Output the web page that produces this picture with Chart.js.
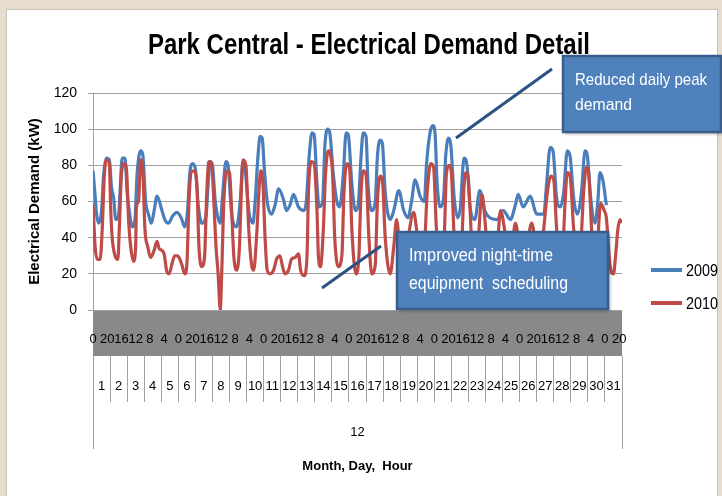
<!DOCTYPE html>
<html><head><meta charset="utf-8">
<script src="https://cdn.jsdelivr.net/npm/chart.js@4.4.1/dist/chart.umd.min.js"></script>
<style>
html,body{margin:0;padding:0;}
body{width:722px;height:496px;overflow:hidden;background:#E6DDCE;position:relative;}
#panel{position:absolute;left:6px;top:9px;width:710px;height:495px;background:#fff;border:1px solid #C9C2B6;}
#c{position:absolute;left:0;top:0;}
</style></head><body>
<div id="panel"></div>
<canvas id="c" width="722" height="496"></canvas>
<script>
const SANS = "'Liberation Sans Narrow', 'Liberation Sans', Arial, sans-serif";

// Hour of month (0 = Dec 1, 00:00) and demand in kW
const hours2009 = [0,3,5,8,12,15,19,23,26,29,32,36,38,41,45,48,51,55,59,62,67,70,74,78,82,86,90,97,101,106,112,118,124,129,133,136,140,144,148,153,159,162,165,168,172,179,182,187,190,195,202,207,211,214,219,225,228,232,235,238,241,245,251,256,261,268,272,277,282,289,296,300,304,308,311,315,318,323,326,330,333,338,343,347,352,356,359,364,369,373,377,380,384,387,392,397,400,404,407,411,418,423,430,437,443,448,453,460,466,469,474,478,481,484,488,493,496,500,503,508,513,517,520,522,526,530,537,544,551,558,568,577,587,594,598,605,615,624,634,638,643,647,652,657,662,667,671,676,681,687,692,695,700,706,710,713,717,722];
const kw2009 = [77,63,53,48,55,75,84,83,68,62,50,52,65,84,84,65,55,46,50,75,88,86,60,53,48,55,63,55,50,48,52,54,51,46,55,75,81,78,58,48,52,70,82,80,60,48,62,82,80,53,46,60,82,78,55,48,60,85,96,95,78,60,53,58,67,61,55,58,64,57,55,60,85,98,97,70,57,60,90,100,98,75,60,57,75,98,97,70,55,58,85,98,96,68,55,60,85,94,92,65,50,55,66,55,51,60,72,63,60,80,98,102,98,70,57,62,85,95,92,62,51,58,78,84,80,58,50,66,55,51,50,55,50,58,64,57,63,53,53,70,90,88,62,57,65,88,85,62,53,65,88,86,62,48,60,76,72,58];

const hours2010 = [0,3,6,10,13,16,19,23,25,27,31,35,37,40,44,47,50,53,57,60,61,64,67,70,73,77,81,86,90,93,97,100,104,107,112,115,119,121,125,129,132,135,138,142,146,149,153,157,160,163,167,170,173,176,179,181,184,188,192,195,198,202,206,209,211,215,219,223,226,230,234,236,239,242,245,249,254,258,263,266,270,275,279,284,289,292,297,301,303,307,311,315,317,320,324,327,331,334,337,340,345,350,353,357,361,364,370,374,377,380,384,388,392,397,400,404,407,411,418,423,427,434,441,451,455,460,466,470,475,479,483,490,494,497,501,504,508,514,519,522,525,528,533,537,542,547,554,563,568,573,580,587,594,603,610,617,624,630,634,639,644,648,652,657,661,664,667,671,676,683,686,690,694,697,702,709,711,714,719,722,727,732,735,738,741,743];
const kw2010 = [59,35,28,28,45,75,83,81,55,40,30,28,45,75,81,78,50,35,27,35,57,60,83,78,45,35,29,33,38,34,33,31,21,20,27,30,30,29,25,20,25,60,76,77,70,35,24,30,65,82,80,60,35,20,0,20,60,77,76,55,30,22,35,70,83,80,45,25,22,40,70,77,70,40,22,20,22,28,30,25,20,22,28,29,31,22,19,30,65,82,81,55,30,24,45,75,88,86,75,40,24,30,65,81,78,45,20,30,65,77,75,40,20,25,60,74,72,40,20,35,50,24,35,54,45,29,35,65,81,79,45,24,40,75,80,76,40,22,40,70,76,72,35,24,40,64,38,24,30,55,42,27,48,29,35,48,33,31,45,65,74,72,45,24,35,60,76,74,45,24,35,65,79,76,40,24,45,59,55,51,25,20,30,44,50,48];

const seriesNames = ['2009', '2010'];
const dayLabels = ['1','2','3','4','5','6','7','8','9','10','11','12','13','14','15','16','17','18','19','20','21','22','23','24','25','26','27','28','29','30','31'];
const monthLabels = ['12'];
const chartTitle = 'Park Central - Electrical Demand Detail';
const yTickStep = 20;
const hourLabelStep = 20;

const toPts = (hs, vs) => hs.map((h, i) => ({x: h, y: vs[i]}));

const callouts = [
  {lines: ['Reduced daily peak', 'demand'], widths: [132, 57], box: [563, 56, 158, 76], tx: 575, ty: [80, 105], font: '17px ' + SANS, from: [552, 69], to: [456, 138]},
  {lines: ['Improved night-time', 'equipment  scheduling'], widths: [144, 159], box: [397, 232, 211, 77], tx: 409, ty: [256, 284], font: '18px ' + SANS, from: [381, 246], to: [322, 288]}
];

const titlePlugin = {
  id: 'narrowTitle',
  afterDraw(chart) {
    const ctx = chart.ctx;
    ctx.save();
    ctx.fillStyle = '#000';
    ctx.font = 'bold 29px ' + SANS;
    ctx.textAlign = 'center'; ctx.textBaseline = 'middle';
    ctx.fillText(chartTitle, 369, 46, 442);
    ctx.restore();
  }
};

const calloutPlugin = {
  id: 'callouts',
  afterDraw(chart) {
    const ctx = chart.ctx;
    ctx.save();
    ctx.strokeStyle = '#2C5182';
    ctx.lineWidth = 3;
    ctx.lineCap = 'butt';
    callouts.forEach(n => {
      ctx.beginPath(); ctx.moveTo(n.from[0], n.from[1]); ctx.lineTo(n.to[0], n.to[1]); ctx.stroke();
    });
    callouts.forEach(n => {
      const [x, y, w, h] = n.box;
      ctx.save();
      ctx.shadowColor = 'rgba(0,0,0,0.35)';
      ctx.shadowOffsetX = 2; ctx.shadowOffsetY = 2; ctx.shadowBlur = 3;
      ctx.fillStyle = '#4F81BD';
      ctx.fillRect(x, y, w, h);
      ctx.restore();
      ctx.strokeStyle = '#385D8A'; ctx.lineWidth = 2.5;
      ctx.strokeRect(x, y, w, h);
      ctx.fillStyle = '#FFFFFF'; ctx.font = n.font; ctx.textBaseline = 'middle'; ctx.textAlign = 'left';
      n.lines.forEach((t, i) => ctx.fillText(t, n.tx, n.ty[i], n.widths[i]));
    });
    ctx.restore();
  }
};

const legendPlugin = {
  id: 'sideLegend',
  afterDraw(chart) {
    const ctx = chart.ctx;
    ctx.save();
    const ys = [270, 303];
    chart.data.datasets.forEach((ds, i) => {
      ctx.strokeStyle = ds.borderColor; ctx.lineWidth = 4; ctx.lineCap = 'butt';
      ctx.beginPath(); ctx.moveTo(651, ys[i]); ctx.lineTo(682, ys[i]); ctx.stroke();
      ctx.fillStyle = '#000'; ctx.font = '17px ' + SANS; ctx.textBaseline = 'middle'; ctx.textAlign = 'left';
      ctx.fillText(ds.label, 686, ys[i] + 1, 32);
    });
    ctx.restore();
  }
};

new Chart(document.getElementById('c'), {
  type: 'line',
  data: {
    datasets: [
      {label: seriesNames[0], data: toPts(hours2009, kw2009), borderColor: '#4A7EBB', borderWidth: 3.2, pointRadius: 0, cubicInterpolationMode: 'monotone', order: 1, xAxisID: 'x', yAxisID: 'y'},
      {label: seriesNames[1], data: toPts(hours2010, kw2010), borderColor: '#BE4B48', borderWidth: 3.2, pointRadius: 0, cubicInterpolationMode: 'monotone', order: 0, xAxisID: 'x', yAxisID: 'y'}
    ]
  },
  plugins: [titlePlugin, calloutPlugin, legendPlugin],
  options: {
    responsive: false,
    animation: false,
    devicePixelRatio: 1,
    layout: {padding: {left: 16, right: 0, top: 93, bottom: 0}},
    plugins: {
      legend: {display: false},
      tooltip: {enabled: false},
      title: {display: false}
    },
    scales: {
      x: {
        type: 'linear', position: 'bottom', weight: 0, min: 0, max: 744,
        grid: {display: false, drawTicks: false}, border: {display: false},
        backgroundColor: '#898989',
        ticks: {stepSize: hourLabelStep, includeBounds: false, autoSkip: false, maxRotation: 0, minRotation: 0,
          padding: 22, color: '#000', font: {family: SANS, size: 13},
          callback: v => String(v % 24)},
        afterFit: s => { s.height = 46; }
      },
      xDay: {
        type: 'category', position: 'bottom', weight: 1, labels: dayLabels, offset: true,
        grid: {offset: true, drawOnChartArea: false, drawTicks: true, tickLength: 46, color: '#A0A0A0'},
        border: {display: false},
        ticks: {autoSkip: false, maxRotation: 0, minRotation: 0, padding: -23.8, color: '#000', font: {family: SANS, size: 13}},
        afterFit: s => { s.height = 46; }
      },
      xMonth: {
        type: 'category', position: 'bottom', weight: 2, labels: monthLabels, offset: true,
        grid: {offset: true, drawOnChartArea: false, drawTicks: true, tickLength: 47, color: '#A0A0A0'},
        border: {display: false},
        ticks: {autoSkip: false, maxRotation: 0, padding: -24, color: '#000', font: {family: SANS, size: 13}},
        title: {display: true, text: 'Month, Day,  Hour', color: '#000', font: {family: SANS, size: 13, weight: 'bold'}, padding: {top: 0, bottom: 22}},
        afterFit: s => { s.height = 94; }
      },
      y: {
        type: 'linear', position: 'left', min: 0, max: 120,
        grid: {color: '#A0A0A0', tickLength: 5, drawTicks: true},
        border: {display: true, color: '#A0A0A0'},
        ticks: {stepSize: yTickStep, padding: 11, color: '#000', font: {family: SANS, size: 14}},
        title: {display: true, text: 'Electrical Demand (kW)', color: '#000', font: {family: SANS, size: 15, weight: 'bold'}, padding: {top: 10, bottom: 0}},
        afterFit: s => { s.width = 77; }
      },
      yRight: {
        type: 'linear', position: 'right', display: true,
        grid: {display: false, drawTicks: false}, border: {display: false},
        ticks: {display: false},
        afterFit: s => { s.width = 100; }
      }
    }
  }
});
</script>
</body></html>
